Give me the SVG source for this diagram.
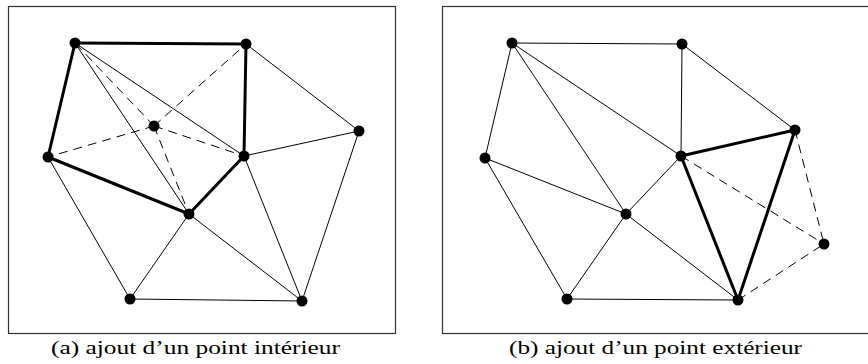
<svg xmlns="http://www.w3.org/2000/svg" width="868" height="364" viewBox="0 0 868 364">
<style>
.frame{fill:none;stroke:#333;stroke-width:1.2}
.e{stroke:#000;stroke-width:1;fill:none}
.t{stroke:#000;stroke-width:3;fill:none;stroke-linecap:round}
.d{stroke:#000;stroke-width:1;fill:none;stroke-dasharray:9,6}
.n{fill:#000}
.cap{font-family:"Liberation Serif",serif;font-size:19px;fill:#000}
</style>
<rect class="frame" x="8.5" y="6.5" width="387" height="327"/>
<rect class="frame" x="442.5" y="6.5" width="430" height="327"/>
<g id="connectors-a">
<line class="e" x1="75" y1="43" x2="244" y2="156"/>
<line class="e" x1="75" y1="43" x2="189" y2="214"/>
<line class="e" x1="246" y1="44" x2="359" y2="131"/>
<line class="e" x1="359" y1="131" x2="244" y2="156"/>
<line class="e" x1="244" y1="156" x2="302" y2="301"/>
<line class="e" x1="359" y1="131" x2="302" y2="301"/>
<line class="e" x1="189" y1="214" x2="302" y2="301"/>
<line class="e" x1="189" y1="214" x2="130" y2="299"/>
<line class="e" x1="130" y1="299" x2="302" y2="301"/>
<line class="e" x1="48" y1="157" x2="130" y2="299"/>
<line class="d" x1="154" y1="126" x2="75" y2="43"/>
<line class="d" x1="154" y1="126" x2="246" y2="44"/>
<line class="d" x1="154" y1="126" x2="48" y2="157"/>
<line class="d" x1="154" y1="126" x2="244" y2="156"/>
<line class="d" x1="154" y1="126" x2="189" y2="214"/>
<line class="t" x1="75" y1="43" x2="246" y2="44"/>
<line class="t" x1="246" y1="44" x2="244" y2="156"/>
<line class="t" x1="244" y1="156" x2="189" y2="214"/>
<line class="t" x1="189" y1="214" x2="48" y2="157"/>
<line class="t" x1="48" y1="157" x2="75" y2="43"/>
</g>
<g id="a1"><circle class="n" cx="75" cy="43" r="5.5"/></g>
<g id="a2"><circle class="n" cx="246" cy="44" r="5.5"/></g>
<g id="a3"><circle class="n" cx="359" cy="131" r="5.5"/></g>
<g id="a4"><circle class="n" cx="244" cy="156" r="5.5"/></g>
<g id="a5"><circle class="n" cx="48" cy="157" r="5.5"/></g>
<g id="a6"><circle class="n" cx="154" cy="126" r="5.5"/></g>
<g id="a7"><circle class="n" cx="189" cy="214" r="5.5"/></g>
<g id="a8"><circle class="n" cx="130" cy="299" r="5.5"/></g>
<g id="a9"><circle class="n" cx="302" cy="301" r="5.5"/></g>
<g id="connectors-b">
<line class="e" x1="512" y1="43" x2="682" y2="44"/>
<line class="e" x1="512" y1="43" x2="485" y2="158"/>
<line class="e" x1="512" y1="43" x2="626" y2="214"/>
<line class="e" x1="512" y1="43" x2="681" y2="156"/>
<line class="e" x1="682" y1="44" x2="681" y2="156"/>
<line class="e" x1="682" y1="44" x2="795" y2="130"/>
<line class="e" x1="485" y1="158" x2="626" y2="214"/>
<line class="e" x1="485" y1="158" x2="567" y2="299"/>
<line class="e" x1="626" y1="214" x2="567" y2="299"/>
<line class="e" x1="626" y1="214" x2="681" y2="156"/>
<line class="e" x1="626" y1="214" x2="738" y2="300"/>
<line class="e" x1="567" y1="299" x2="738" y2="300"/>
<line class="d" x1="681" y1="156" x2="824" y2="244"/>
<line class="d" x1="795" y1="130" x2="824" y2="244"/>
<line class="d" x1="738" y1="300" x2="824" y2="244"/>
<line class="t" x1="681" y1="156" x2="795" y2="130"/>
<line class="t" x1="681" y1="156" x2="738" y2="300"/>
<line class="t" x1="795" y1="130" x2="738" y2="300"/>
</g>
<g id="b1"><circle class="n" cx="512" cy="43" r="5.5"/></g>
<g id="b2"><circle class="n" cx="682" cy="44" r="5.5"/></g>
<g id="b3"><circle class="n" cx="795" cy="130" r="5.5"/></g>
<g id="b4"><circle class="n" cx="681" cy="156" r="5.5"/></g>
<g id="b5"><circle class="n" cx="485" cy="158" r="5.5"/></g>
<g id="b6"><circle class="n" cx="626" cy="214" r="5.5"/></g>
<g id="b7"><circle class="n" cx="567" cy="299" r="5.5"/></g>
<g id="b8"><circle class="n" cx="738" cy="300" r="5.5"/></g>
<g id="b9"><circle class="n" cx="824" cy="244" r="5.5"/></g>
<text class="cap" x="51" y="354" textLength="289" lengthAdjust="spacingAndGlyphs">(a) ajout d’un point intérieur</text>
<text class="cap" x="509" y="354" textLength="293" lengthAdjust="spacingAndGlyphs">(b) ajout d’un point extérieur</text>
</svg>
